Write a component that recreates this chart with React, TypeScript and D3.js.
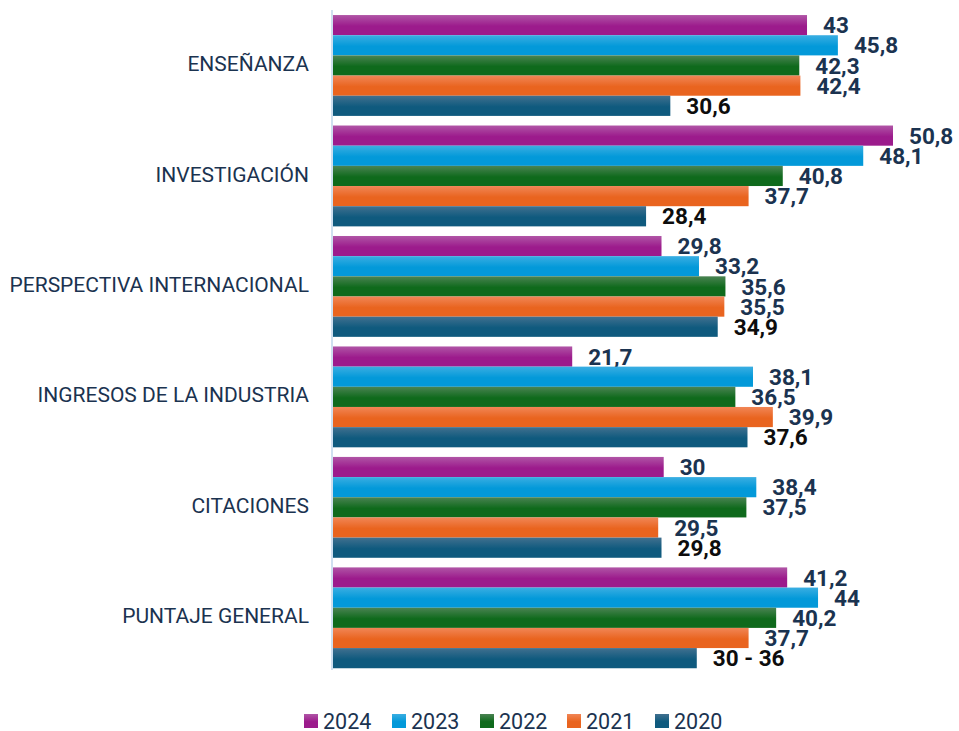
import React, { useEffect, useRef } from 'react';
import * as d3 from 'd3';

const categories = [
  'ENSEÑANZA',
  'INVESTIGACIÓN',
  'PERSPECTIVA INTERNACIONAL',
  'INGRESOS DE LA INDUSTRIA',
  'CITACIONES',
  'PUNTAJE GENERAL',
];
const years = ['2024', '2023', '2022', '2021', '2020'];
const values2024 = [43, 50.8, 29.8, 21.7, 30, 41.2];
const values2023 = [45.8, 48.1, 33.2, 38.1, 38.4, 44];
const values2022 = [42.3, 40.8, 35.6, 36.5, 37.5, 40.2];
const values2021 = [42.4, 37.7, 35.5, 39.9, 29.5, 37.7];
const values2020 = [30.6, 28.4, 34.9, 37.6, 29.8, 33];
const labels2020 = ['30,6', '28,4', '34,9', '37,6', '29,8', '30 - 36'];

const colors = [
  ['#b055a6', '#9c1b8c'],
  ['#3aaee2', '#0399d9'],
  ['#4a8352', '#0f6a1c'],
  ['#f18656', '#e9641f'],
  ['#41708f', '#0f5a7e'],
];

const fmt = (v: number) => String(v).replace('.', ',');

export default function App() {
  const svgRef = useRef<SVGSVGElement>(null);

  useEffect(() => {
    if (!svgRef.current) return;
    const svg = d3.select(svgRef.current);
    svg.selectAll('*').remove();

    const series = [values2024, values2023, values2022, values2021, values2020];

    const defs = svg.append('defs');
    colors.forEach((c, i) => {
      const g = defs.append('linearGradient')
        .attr('id', `grad${i}`)
        .attr('x1', 0).attr('x2', 0).attr('y1', 0).attr('y2', 1);
      g.append('stop').attr('offset', '0%').attr('stop-color', c[0]);
      g.append('stop').attr('offset', '55%').attr('stop-color', c[1]);
      g.append('stop').attr('offset', '100%').attr('stop-color', c[1]);
    });

    const x = d3.scaleLinear().domain([0, 50.8]).range([333, 893]);
    const y0 = d3.scaleBand<string>()
      .domain(categories)
      .range([10.3, 673])
      .paddingInner(0.087)
      .paddingOuter(0.043);
    const y1 = d3.scaleBand<string>().domain(years).range([0, y0.bandwidth()]);

    // axis line
    svg.append('line')
      .attr('x1', 332).attr('x2', 332)
      .attr('y1', 10).attr('y2', 670)
      .attr('stroke', '#cfe0f0')
      .attr('stroke-width', 2);

    const groups = svg.selectAll('.grp')
      .data(categories)
      .enter().append('g')
      .attr('transform', d => `translate(0,${y0(d)})`);

    groups.each(function (cat, ci) {
      const g = d3.select(this);
      years.forEach((yr, si) => {
        const v = series[si][ci];
        g.append('rect')
          .attr('x', x(0))
          .attr('y', y1(yr)!)
          .attr('width', x(v) - x(0))
          .attr('height', y1.bandwidth())
          .attr('fill', `url(#grad${si})`);
        g.append('text')
          .attr('x', x(v) + 16)
          .attr('y', y1(yr)! + y1.bandwidth() / 2)
          .attr('dy', '0.36em')
          .style('font-family', 'Roboto, sans-serif')
          .style('font-weight', '700')
          .style('font-size', '22.5px')
          .style('fill', si === 4 ? '#0d0d0d' : '#1b3350')
          .text(si === 4 ? labels2020[ci] : fmt(v));
      });
    });

    // category labels
    svg.selectAll('.cat')
      .data(categories)
      .enter().append('text')
      .attr('x', 309)
      .attr('y', d => y0(d)! + y0.bandwidth() / 2 - 2)
      .attr('dy', '0.36em')
      .attr('text-anchor', 'end')
      .style('font-family', 'Roboto, sans-serif')
      .style('font-size', '21px')
      .style('fill', '#1b3350')
      .text(d => d);

    // legend
    const legX = [304, 392, 480, 567, 655];
    const leg = svg.selectAll('.leg')
      .data(years)
      .enter().append('g')
      .attr('transform', (d, i) => `translate(${legX[i]},714)`);
    leg.append('rect')
      .attr('width', 14).attr('height', 14)
      .attr('fill', (d, i) => `url(#grad${i})`);
    leg.append('text')
      .attr('x', 19)
      .attr('y', 7)
      .attr('dy', '0.35em')
      .style('font-family', 'Roboto, sans-serif')
      .style('font-size', '21.5px')
      .style('fill', '#1b3350')
      .text(d => d);
  }, []);

  return (
    <svg ref={svgRef} width={959} height={731}
      style={{ position: 'absolute', left: 0, top: 0, background: '#fff' }} />
  );
}
